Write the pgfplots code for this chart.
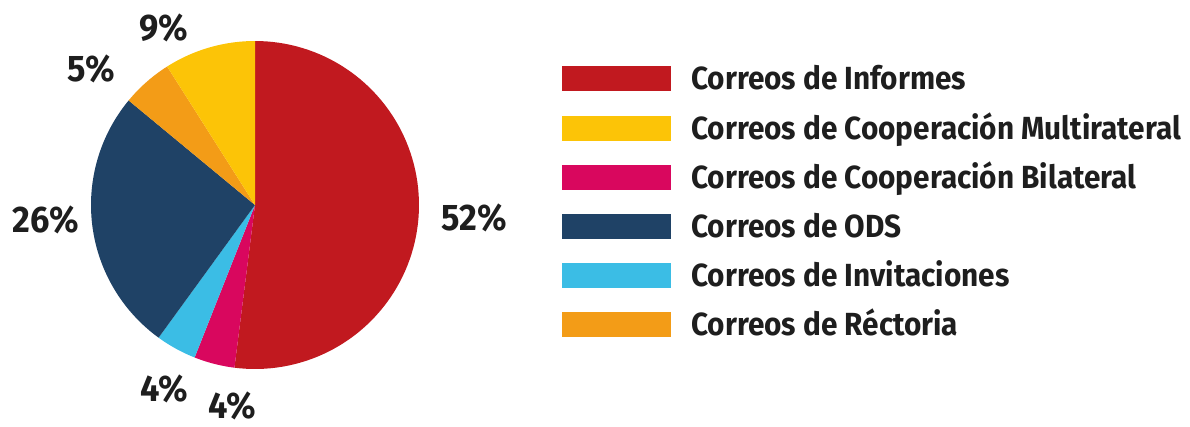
\documentclass[border=0pt]{standalone}
\usepackage{pgfplots}
\pgfplotsset{compat=1.18}
\usepackage{fontspec}
\setmainfont{Fira Sans}[BoldFont={Fira Sans Bold}, BoldFeatures={FakeStretch=0.93}]
\definecolor{cRed}{HTML}{C1191F}
\definecolor{cYel}{HTML}{FCC407}
\definecolor{cMag}{HTML}{D9075E}
\definecolor{cNav}{HTML}{1F4266}
\definecolor{cCya}{HTML}{3BBDE5}
\definecolor{cOra}{HTML}{F39C17}
\definecolor{cTxt}{HTML}{1E1E1E}
\tikzset{pct/.style={font=\bfseries\fontsize{18.5}{20}\selectfont\color{cTxt}}}
% slice: color, start angle (deg), percentage ; drawn clockwise
\newcommand\slice[3]{%
  \addplot[fill=#1, draw=none, forget plot, domain={#2-3.6*#3}:{#2}, samples=90, variable=\t]
    ({255+164*cos(\t)},{212+164*sin(\t)}) -- (axis cs:255,212) -- cycle;}
\begin{document}
\begin{tikzpicture}
\begin{axis}[
  x=0.5pt, y=0.5pt, xmin=0, xmax=1190, ymin=0, ymax=417,
  hide axis, clip=false,
  font=\bfseries\fontsize{16}{19}\selectfont\color{cTxt},
  legend style={at={(axis cs:562,351)}, anchor=north west, draw=none, fill=none,
    inner sep=0pt, row sep=12.2pt,
    nodes={inner xsep=0pt, inner ysep=0pt, text height=11pt, text depth=0pt, anchor=west}},
  legend cell align=left,
  legend image code/.code={\fill[#1] (0pt,-6pt) rectangle (54pt,6pt); \path (64pt,0pt);},
]
\path (axis cs:0,0) rectangle (axis cs:1190,417);
% percentages clockwise from 12 o'clock: 52, 4, 4, 26, 5, 9
\slice{cRed}{90}{52}
\slice{cMag}{-97.2}{4}
\slice{cCya}{-111.6}{4}
\slice{cNav}{-126}{26}
\slice{cOra}{-219.6}{5}
\slice{cYel}{-237.6}{9}
\addlegendimage{cRed}
\addlegendentry{Correos de Informes}
\addlegendimage{cYel}
\addlegendentry{Correos de Cooperación Multirateral}
\addlegendimage{cMag}
\addlegendentry{Correos de Cooperación Bilateral}
\addlegendimage{cNav}
\addlegendentry{Correos de ODS}
\addlegendimage{cCya}
\addlegendentry{Correos de Invitaciones}
\addlegendimage{cOra}
\addlegendentry{Correos de Réctoria}
\node[pct] at (axis cs:474,199) {52\%};
\node[pct] at (axis cs:164,389) {9\%};
\node[pct] at (axis cs:91,348) {5\%};
\node[pct] at (axis cs:46,197) {26\%};
\node[pct] at (axis cs:164,28) {4\%};
\node[pct] at (axis cs:232,11) {4\%};
\end{axis}
\end{tikzpicture}
\end{document}
